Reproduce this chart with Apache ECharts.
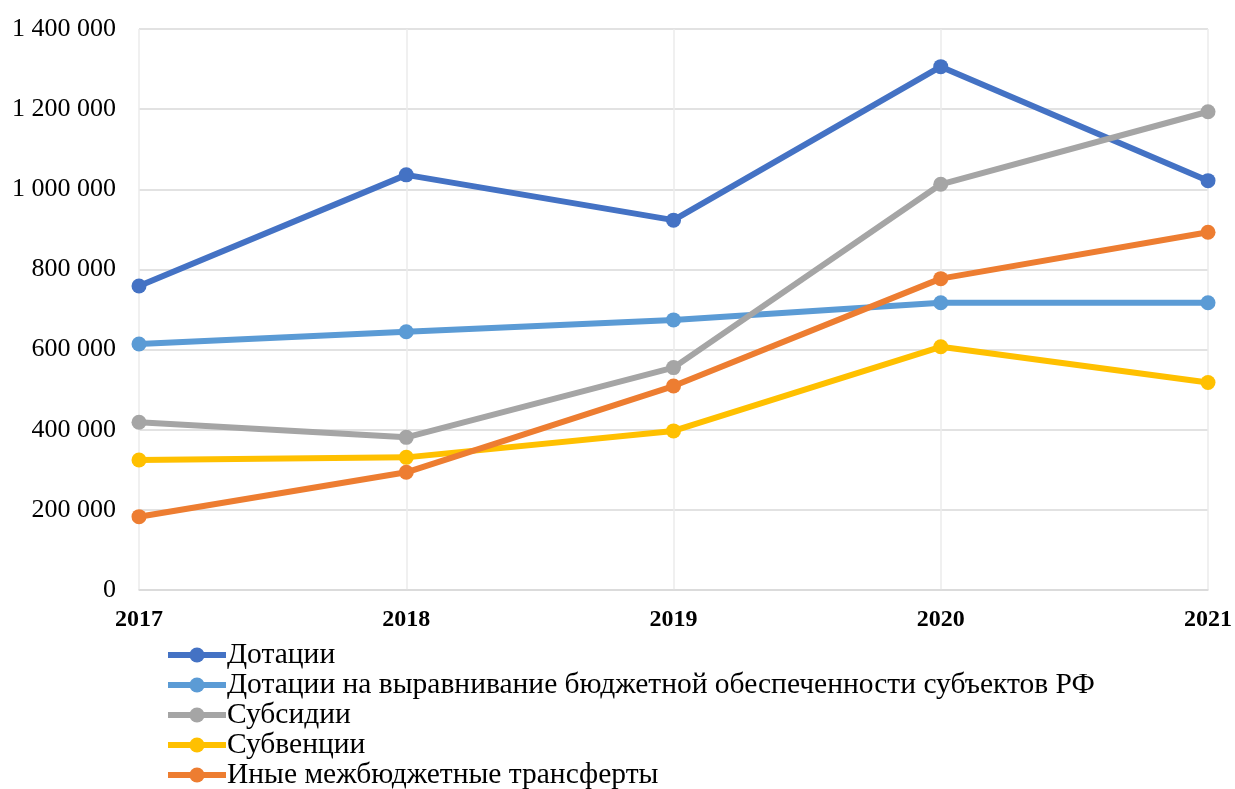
<!DOCTYPE html>
<html>
<head>
<meta charset="utf-8">
<script src="https://cdn.jsdelivr.net/npm/echarts@6/dist/echarts.min.js"></script>
<style>
html,body{margin:0;padding:0;background:#fff;}
#chart{width:1235px;height:789px;}
</style>
</head>
<body>
<div id="chart"></div>
<script>
var years = ['2017', '2018', '2019', '2020', '2021'];
var seriesNames = [
  'Дотации',
  'Дотации на выравнивание бюджетной обеспеченности субъектов РФ',
  'Субсидии',
  'Субвенции',
  'Иные межбюджетные трансферты'
];
var dotacii = [758700, 1036000, 923000, 1306000, 1021500];
var vyravnivanie = [614000, 644500, 674000, 717000, 717000];
var subsidii = [418500, 381000, 555000, 1012500, 1193500];
var subvencii = [324500, 331000, 397000, 607000, 518000];
var inye = [183000, 293700, 509000, 777000, 892700];
var colors = ['#4472C4', '#5B9BD5', '#A5A5A5', '#FFC000', '#ED7D31'];
var yTicks = { min: 0, max: 1400000, interval: 200000 };

var allData = [dotacii, vyravnivanie, subsidii, subvencii, inye];

function fmt(v) {
  return String(v).replace(/\B(?=(\d{3})+(?!\d))/g, ' ');
}

var chart = echarts.init(document.getElementById('chart'));
var font = '"Liberation Serif", "Times New Roman", serif';
chart.setOption({
  animation: false,
  backgroundColor: '#ffffff',
  grid: { left: 139, right: 26, top: 29, bottom: 199, containLabel: false },
  legend: {
    orient: 'vertical',
    left: 165,
    top: 640,
    height: 160,
    itemWidth: 58,
    itemHeight: 19,
    itemGap: 0,
    padding: 0,
    lineStyle: { width: 6 },
    textStyle: { fontFamily: font, fontSize: 29.5, color: '#000', lineHeight: 30, padding: [0, 0, 0, -4] },
    data: seriesNames
  },
  xAxis: {
    type: 'category',
    data: years,
    boundaryGap: false,
    axisLine: { show: true, lineStyle: { color: '#D9D9D9', width: 1.5 } },
    axisTick: { show: false },
    axisLabel: { fontFamily: font, fontSize: 24, fontWeight: 'bold', color: '#000', margin: 18 },
    splitLine: { show: true, lineStyle: { color: '#EBEBEB', width: 1.5 } }
  },
  yAxis: {
    type: 'value',
    min: yTicks.min,
    max: yTicks.max,
    interval: yTicks.interval,
    axisLine: { show: false },
    axisTick: { show: false },
    axisLabel: { fontFamily: font, fontSize: 26, color: '#000', margin: 23, formatter: fmt },
    splitLine: { show: true, lineStyle: { color: '#D9D9D9', width: 1.5 } }
  },
  series: seriesNames.map(function (n, i) {
    return {
      name: n,
      type: 'line',
      data: allData[i],
      symbol: 'circle',
      symbolSize: 15,
      showSymbol: true,
      lineStyle: { width: 6, color: colors[i] },
      itemStyle: { color: colors[i] },
      emphasis: { disabled: true },
      z: 2 + i
    };
  })
});
</script>
</body>
</html>
